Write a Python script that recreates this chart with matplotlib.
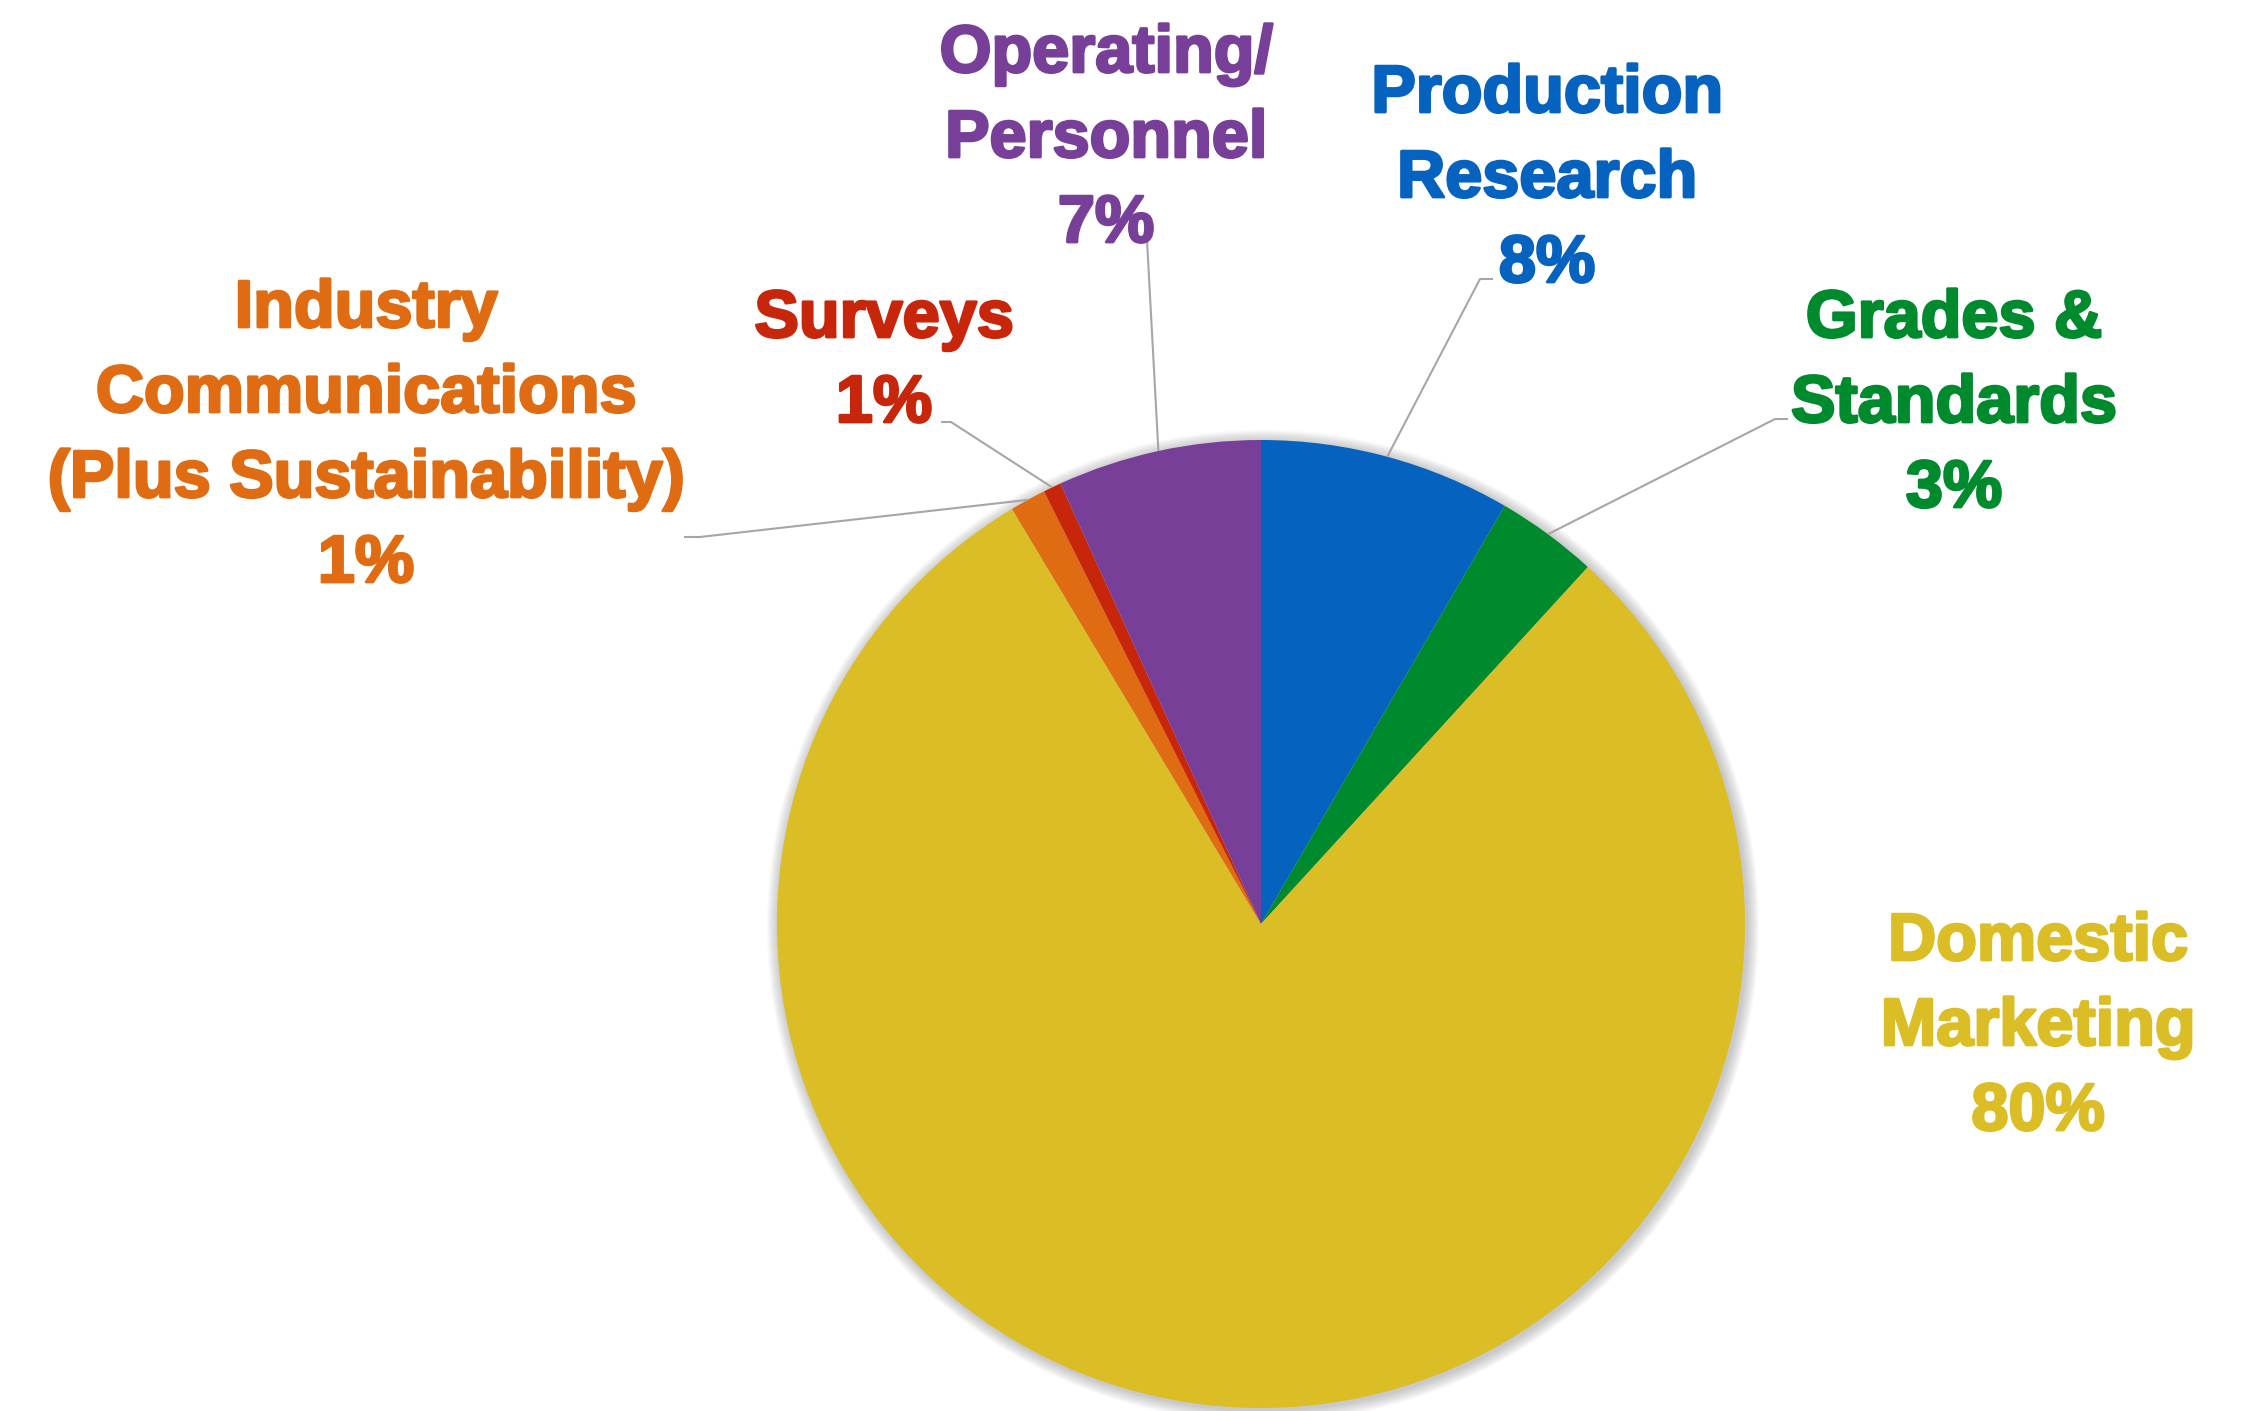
import matplotlib
matplotlib.use("Agg")
import matplotlib.pyplot as plt
import matplotlib.patheffects as pe
from matplotlib.patches import Circle
import numpy as np

# Budget shares by program area
categories = [
    "Production\nResearch",
    "Grades &\nStandards",
    "Domestic\nMarketing",
    "Industry\nCommunications\n(Plus Sustainability)",
    "Surveys",
    "Operating/\nPersonnel",
]
values = [8.4, 3.4, 79.6, 1.2, 0.6, 6.8]
colors = ["#0563BF", "#008A2E", "#DBBD26", "#DF6C12", "#C8260A", "#773F98"]

W, H = 2265, 1411
CX, CY, R = 1261, 924, 484          # pie centre / radius in pixel space (y from top)

# Label anchors: centre x, first baseline y (from top), and leader path start
label_pos = [(1547, 112), (1954, 337), (2038, 960), (366, 327), (884, 337), (1106, 72)]
leader_start = [
    [(1493, 279), (1480, 279)],
    [(1788, 419), (1775, 419)],
    None,
    [(684, 537), (700, 537)],
    [(941, 422), (951, 422)],
    [(1147, 240)],
]
LINE_STEP = 85

plt.rcParams["font.family"] = ["Liberation Sans", "DejaVu Sans"]

fig = plt.figure(figsize=(W / 100, H / 100), dpi=100)
ax = fig.add_axes([0, 0, 1, 1])


def fy(y):
    return H - y


# soft glow around the pie
for k in range(1, 13):
    ax.add_patch(Circle((CX + 2, fy(CY) - 2), R + k, facecolor="#7f7f7f",
                        edgecolor="none", alpha=0.04, zorder=0))

wedges, _ = ax.pie(values, colors=colors, startangle=90, counterclock=False,
                   center=(CX, fy(CY)), radius=R,
                   wedgeprops=dict(linewidth=0, zorder=2))

ax.set_xlim(0, W)
ax.set_ylim(0, H)
ax.set_aspect("equal")
ax.axis("off")

total = sum(values)
for w, name, v, col, (lx, ly), lead in zip(wedges, categories, values, colors,
                                             label_pos, leader_start):
    lines = name.split("\n") + [f"{v / total * 100:.0f}%"]
    for i, line in enumerate(lines):
        ax.text(lx, fy(ly + i * LINE_STEP), line, ha="center", va="baseline",
                fontsize=48, fontweight="bold", color=col, zorder=5,
                path_effects=[pe.withStroke(linewidth=2, foreground=col)])
    if lead is not None:
        mid = np.deg2rad((w.theta1 + w.theta2) / 2)
        ex = CX + R * np.cos(mid)
        ey = fy(CY) + R * np.sin(mid)
        xs = [p[0] for p in lead] + [ex]
        ys = [fy(p[1]) for p in lead] + [ey]
        ax.plot(xs, ys, color="#A6A6A6", lw=1.5, zorder=3, solid_capstyle="butt")

fig.savefig("out.png", dpi=100, facecolor="white")
